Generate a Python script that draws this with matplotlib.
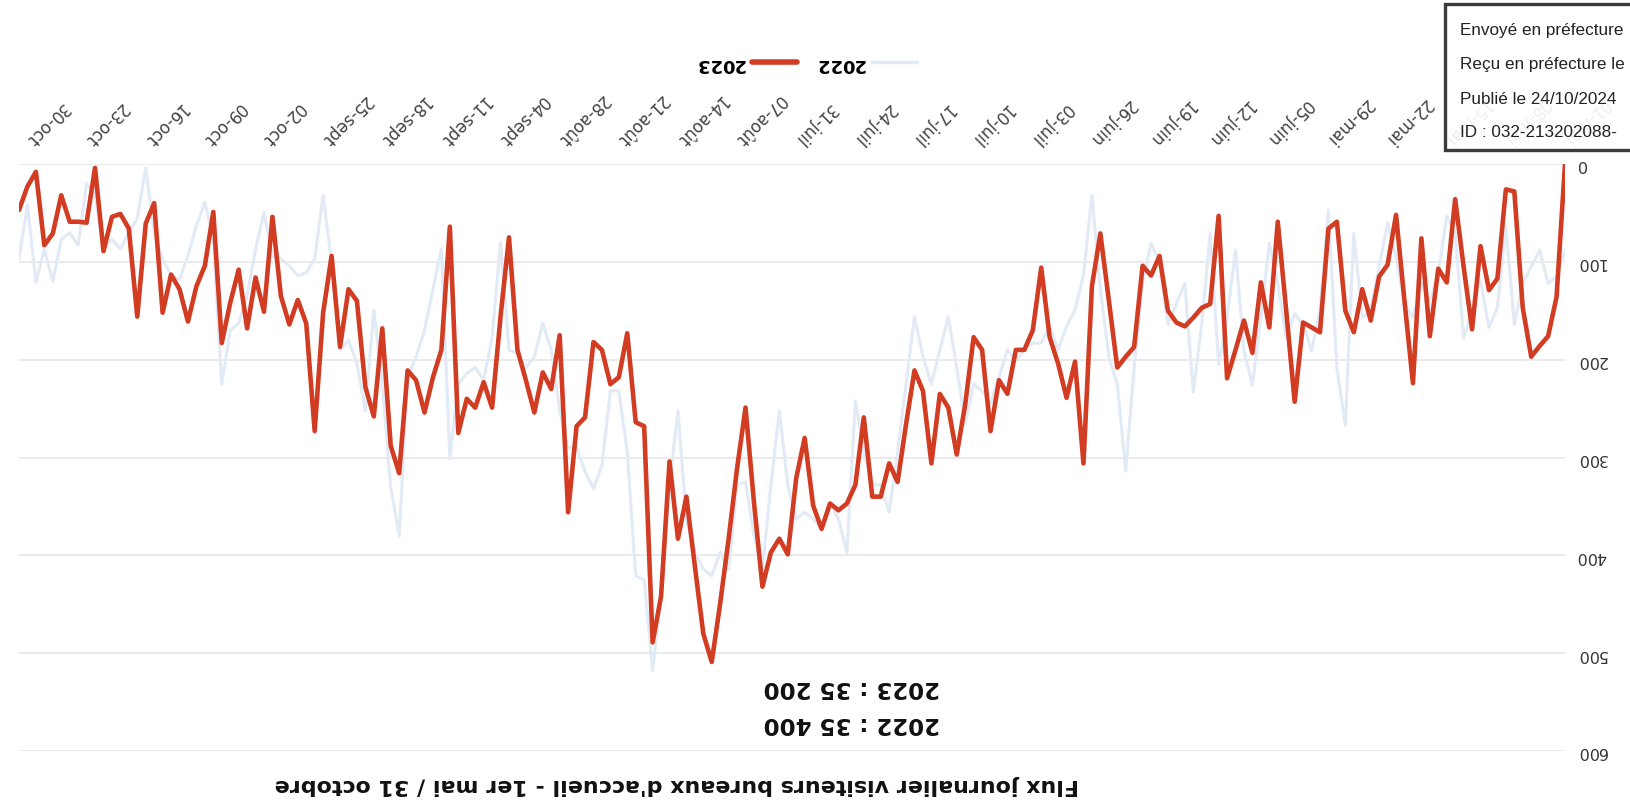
import matplotlib
matplotlib.use("Agg")
import matplotlib.pyplot as plt
from matplotlib.patches import Rectangle
import pandas as pd

# daily values, read from 31 Oct back to 1 May (chart is printed upside down)
visits_2023 = [
    47, 23, 8, 83, 71, 32, 59, 59, 60, 4,
    89, 54, 51, 66, 156, 61, 40, 152, 113, 128,
    161, 125, 104, 49, 183, 142, 108, 168, 116, 151,
    54, 135, 164, 139, 163, 273, 152, 94, 187, 128,
    140, 228, 258, 168, 288, 316, 211, 221, 254, 218,
    190, 64, 275, 240, 249, 223, 249, 156, 75, 190,
    221, 254, 213, 230, 175, 356, 268, 259, 182, 190,
    225, 218, 173, 264, 268, 489, 442, 304, 383, 340,
    411, 480, 509, 449, 383, 311, 249, 346, 432, 397,
    383, 399, 321, 280, 349, 373, 347, 354, 347, 328,
    259, 340, 340, 306, 325, 266, 211, 232, 306, 235,
    249, 297, 246, 177, 190, 273, 221, 235, 190, 190,
    170, 106, 177, 204, 239, 202, 306, 125, 71, 139,
    208, 197, 187, 104, 114, 94, 150, 162, 166, 157,
    147, 143, 53, 219, 190, 160, 193, 121, 167, 59,
    150, 243, 162, 167, 172, 66, 59, 150, 172, 128,
    160, 115, 103, 52, 140, 224, 76, 176, 107, 121,
    36, 105, 169, 84, 129, 117, 26, 28, 147, 197,
    186, 176, 136, 0,
]

visits_2022 = [
    97, 42, 121, 87, 120, 77, 70, 83, 20, 30,
    87, 77, 87, 70, 56, 4, 70, 97, 114, 118,
    94, 63, 39, 77, 225, 170, 163, 135, 87, 49,
    94, 97, 104, 114, 111, 97, 32, 101, 190, 180,
    204, 252, 149, 225, 330, 380, 218, 197, 170, 128,
    87, 301, 225, 214, 208, 221, 177, 80, 190, 194,
    208, 197, 163, 190, 252, 290, 290, 314, 332, 308,
    232, 232, 294, 421, 425, 518, 442, 328, 252, 363,
    397, 414, 421, 397, 414, 328, 325, 380, 414, 328,
    252, 328, 363, 356, 363, 373, 346, 363, 397, 242,
    294, 328, 328, 356, 294, 225, 156, 197, 225, 190,
    156, 208, 266, 225, 232, 245, 218, 190, 201, 190,
    183, 183, 166, 190, 166, 149, 114, 32, 128, 197,
    225, 314, 208, 121, 81, 100, 164, 143, 122, 233,
    164, 71, 205, 157, 88, 191, 226, 157, 81, 122,
    178, 153, 164, 191, 150, 47, 209, 267, 71, 157,
    150, 105, 60, 95, 143, 157, 122, 140, 112, 53,
    71, 178, 150, 119, 167, 147, 64, 164, 122, 105,
    88, 122, 115, 88,
]

visits_2023 = visits_2023[::-1]
visits_2022 = visits_2022[::-1]
days = pd.date_range("2023-05-01", "2023-10-31", freq="D")

week_ticks = pd.date_range("2023-05-01", "2023-10-30", freq="7D")
week_labels = [
    "01-mai", "08-mai", "15-mai", "22-mai", "29-mai", "05-juin", "12-juin",
    "19-juin", "26-juin", "03-juil", "10-juil", "17-juil", "24-juil", "31-juil",
    "07-août", "14-août", "21-août", "28-août", "04-sept", "11-sept", "18-sept",
    "25-sept", "02-oct", "09-oct", "16-oct", "23-oct", "30-oct",
]
y_ticks = [0, 100, 200, 300, 400, 500, 600]

totals = ["2023 : 35 200", "2022 : 35 400"]
title = "Flux journalier visiteurs bureaux d'accueil - 1er mai / 31 octobre"
stamp_lines = ["Envoyé en préfecture", "Reçu en préfecture le",
               "Publié le 24/10/2024", "ID : 032-213202088-"]

W, H = 1630, 812
fig = plt.figure(figsize=(W / 100, H / 100), dpi=100)
ax = fig.add_axes([19 / W, 1 - 752 / H, (1565 - 19) / W, (752 - 165) / H])

ax.plot(days, visits_2022, color="#e2eaf5", lw=2.2, label="2022", zorder=2)
ax.plot(days, visits_2023, color="#d13c22", lw=3.3, label="2023", zorder=3,
        solid_joinstyle="round", solid_capstyle="round")

# chart is rotated 180 degrees: both axes reversed
ax.set_xlim(days[-1], days[0])
ax.set_ylim(600, 0)

ax.set_yticks(y_ticks)
ax.set_yticklabels([str(v) for v in y_ticks])
ax.yaxis.tick_right()
ax.tick_params(axis="y", length=0, pad=8, labelsize=11.5, labelcolor="#333333")
for lab in ax.get_yticklabels():
    lab.set_rotation(180)
    lab.set_va("center")

ax.set_xticks(week_ticks)
ax.set_xticklabels(week_labels)
ax.xaxis.tick_top()
ax.tick_params(axis="x", length=0, pad=16, labelsize=12, labelcolor="#444444")
for lab in ax.get_xticklabels():
    lab.set_rotation(225)
    lab.set_rotation_mode("anchor")
    lab.set_ha("right")
    lab.set_va("center")

ax.grid(axis="y", color="#e8e8e8", lw=1.3)
ax.grid(axis="x", visible=False)
ax.set_axisbelow(True)
for s in ax.spines.values():
    s.set_visible(False)

handles, labels = ax.get_legend_handles_labels()
leg = fig.legend(handles[::-1], labels[::-1], loc="center",
                 bbox_to_anchor=(806 / W, 1 - 64 / H), ncol=2, frameon=False,
                 markerfirst=False, handlelength=2.5, handletextpad=0.4,
                 columnspacing=1.0, prop={"weight": "bold", "size": 13})
for t in leg.get_texts():
    t.set_rotation(180)
for ln in leg.get_lines():
    ln.set_linewidth(4 if ln.get_color() == "#d13c22" else 2.5)

fig.text(852 / W, 1 - 688 / H, totals[0], rotation=180, ha="center", va="center",
         fontsize=16.5, fontweight="bold", color="#111111")
fig.text(852 / W, 1 - 724 / H, totals[1], rotation=180, ha="center", va="center",
         fontsize=16.5, fontweight="bold", color="#111111")
fig.text(677 / W, 1 - 785 / H, title, rotation=180, ha="center", va="center",
         fontsize=15.9, fontweight="bold", color="#111111")

# registration stamp in the corner
fig.add_artist(Rectangle((1445 / W, 1 - 151 / H), 0.2, 146 / H,
                         transform=fig.transFigure, facecolor="white", alpha=0.92,
                         edgecolor="#2a2a2a", lw=2.4, zorder=10))
for k, line in enumerate(stamp_lines):
    fig.text(1460 / W, 1 - (31 + 34 * k) / H, line, ha="left", va="center",
             fontsize=12.3, family="Liberation Sans", color="#222222", zorder=11)

fig.savefig("out.png", dpi=100, facecolor="white")
